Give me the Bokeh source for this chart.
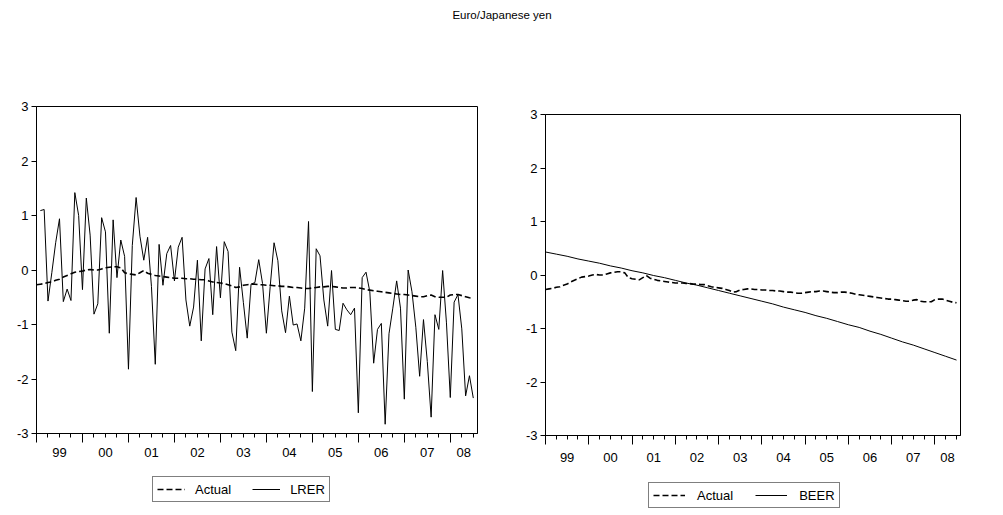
from bokeh.plotting import figure
from bokeh.models import Range1d, FixedTicker, LinearAxis, Legend, LegendItem, Label, Spacer
from bokeh.layouts import column, row
from bokeh.embed import file_html
from bokeh.resources import INLINE

FONT = "Liberation Sans"

# ---- data (month index 0 = 1999M01) ----
actual_months = list(range(115))
actual = [
    -0.27, -0.26, -0.25, -0.23, -0.22, -0.19, -0.17, -0.13, -0.10, -0.07,
    -0.04, -0.03, -0.02, 0.00, 0.01, 0.00, 0.00, 0.02, 0.04, 0.05,
    0.06, 0.06, 0.04, -0.05, -0.07, -0.08, -0.09, -0.05, -0.01, -0.06,
    -0.08, -0.10, -0.11, -0.12, -0.13, -0.14, -0.15, -0.15, -0.15, -0.16,
    -0.16, -0.17, -0.17, -0.18, -0.18, -0.20, -0.22, -0.23, -0.24, -0.25,
    -0.27, -0.29, -0.32, -0.31, -0.28, -0.27, -0.26, -0.26, -0.27, -0.27,
    -0.28, -0.28, -0.29, -0.29, -0.30, -0.30, -0.31, -0.32, -0.32, -0.33,
    -0.34, -0.34, -0.33, -0.32, -0.31, -0.31, -0.30, -0.30, -0.31, -0.32,
    -0.33, -0.33, -0.32, -0.32, -0.33, -0.34, -0.36, -0.37, -0.38, -0.39,
    -0.40, -0.41, -0.42, -0.43, -0.44, -0.45, -0.45, -0.46, -0.47, -0.48,
    -0.49, -0.49, -0.47, -0.46, -0.49, -0.50, -0.50, -0.50, -0.46, -0.45,
    -0.45, -0.47, -0.49, -0.51, -0.52,
]

lrer_months = list(range(1, 115))
lrer = [
    1.09, 1.11, -0.57, -0.05, 0.50, 0.94, -0.58, -0.35, -0.56, 1.42,
    1.00, -0.36, 1.32, 0.64, -0.81, -0.62, 0.96, 0.70, -1.16, 0.92,
    -0.14, 0.55, 0.25, -1.82, 0.45, 1.33, 0.62, 0.18, 0.60, -0.30,
    -1.73, 0.47, -0.28, 0.30, 0.45, -0.20, 0.42, 0.60, -0.55, -1.03,
    -0.68, 0.18, -1.30, 0.02, 0.21, -0.82, 0.43, -0.51, 0.52, 0.34,
    -1.14, -1.48, 0.05, -0.60, -1.25, -0.26, -0.23, 0.19, -0.25, -1.16,
    -0.30, 0.50, 0.17, -0.75, -1.15, -0.48, -1.01, -0.99, -1.30, -0.70,
    0.89, -2.23, 0.39, 0.26, -0.55, -1.03, -0.01, -1.09, -1.11, -0.61,
    -0.73, -0.82, -0.70, -2.62, -0.14, -0.04, -0.40, -1.71, -1.09, -0.98,
    -2.83, -1.17, -0.70, -0.20, -0.70, -2.37, 0.00, -0.40, -1.05, -1.95,
    -0.91, -1.68, -2.70, -0.82, -1.09, -0.01, -0.97, -2.34, -0.59, -0.45,
    -1.08, -2.31, -1.94, -2.35,
]

beer_months = list(range(0, 115, 3))
beer = [
    0.43, 0.39, 0.35, 0.30, 0.26, 0.22, 0.17, 0.13, 0.08, 0.04,
    -0.01, -0.05, -0.10, -0.15, -0.19, -0.24, -0.29, -0.34, -0.39, -0.44,
    -0.49, -0.54, -0.60, -0.65, -0.70, -0.76, -0.81, -0.87, -0.93, -0.98,
    -1.05, -1.11, -1.18, -1.25, -1.31, -1.38, -1.45, -1.52, -1.59,
]

year_labels = ["99", "00", "01", "02", "03", "04", "05", "06", "07", "08"]
year_label_pos = [6.0, 18.0, 30.0, 42.0, 54.0, 66.0, 78.0, 90.0, 102.0, 111.5]
year_bounds = [0, 12, 24, 36, 48, 60, 72, 84, 96, 108]
quarter_ticks = list(range(0, 115, 3))
y_ticks = [-3, -2, -1, 0, 1, 2, 3]
y_tick_labels = ["-3", "-2", "-1", "0", "1", "2", "3"]
title_text = "Euro/Japanese yen"

ACTUAL_STYLE = dict(line_color="black", line_width=1.6, line_dash="6 3")
SECOND_STYLE = dict(line_color="black", line_width=1)


def make_panel(width, height, left, right, top, bottom, second_x, second_y,
               label_standoff):
    p = figure(width=width, height=height, x_range=Range1d(0, 115.1),
               y_range=Range1d(-3, 3), toolbar_location=None,
               output_backend="svg", min_border_left=left,
               min_border_right=right, min_border_top=top,
               min_border_bottom=bottom)
    p.xgrid.visible = False
    p.ygrid.visible = False
    p.outline_line_color = "black"
    p.outline_line_width = 1
    p.background_fill_color = "white"
    p.border_fill_color = "white"

    ya = p.yaxis[0]
    ya.ticker = FixedTicker(ticks=y_ticks, minor_ticks=[])
    ya.major_label_overrides = {t: l for t, l in zip(y_ticks, y_tick_labels)}
    ya.major_tick_out = 5
    ya.major_tick_in = 0
    ya.minor_tick_line_color = None
    ya.major_label_standoff = 3
    ya.major_label_text_font = FONT
    ya.major_label_text_font_size = "13px"
    ya.major_label_text_color = "black"
    ya.axis_line_color = "black"
    ya.major_tick_line_color = "black"

    xa = p.xaxis[0]
    xa.ticker = FixedTicker(ticks=year_bounds, minor_ticks=quarter_ticks)
    xa.major_tick_out = 9
    xa.major_tick_in = 0
    xa.minor_tick_out = 4
    xa.minor_tick_in = 0
    xa.major_label_text_font_size = "0px"
    xa.major_label_text_color = None
    xa.major_label_standoff = 0
    xa.axis_line_color = "black"
    xa.major_tick_line_color = "black"
    xa.minor_tick_line_color = "black"

    la = LinearAxis(ticker=FixedTicker(ticks=year_label_pos, minor_ticks=[]))
    la.major_label_overrides = {t: l for t, l in zip(year_label_pos, year_labels)}
    la.axis_line_color = None
    la.major_tick_line_color = None
    la.minor_tick_line_color = None
    la.major_tick_out = 0
    la.major_tick_in = 0
    la.minor_tick_out = 0
    la.minor_tick_in = 0
    la.major_label_standoff = label_standoff
    la.major_label_text_font = FONT
    la.major_label_text_font_size = "13px"
    la.major_label_text_color = "black"
    p.add_layout(la, "below")

    p.line(second_x, second_y, **SECOND_STYLE)
    p.line(actual_months, actual, **ACTUAL_STYLE)
    return p


def make_legend_fig(width, height, second_x, second_y, second_name, lx, ly,
                    glyph_w, standoff, spacing):
    # the series are drawn outside this figure's visible range; only the
    # legend entries that refer to them are seen
    f = figure(width=width, height=height, x_axis_type=None, y_axis_type=None,
               toolbar_location=None, output_backend="svg", min_border=0,
               outline_line_color=None, x_range=Range1d(-20, -10),
               y_range=Range1d(0, 1))
    f.xgrid.visible = False
    f.ygrid.visible = False
    r1 = f.line(actual_months, actual, **ACTUAL_STYLE)
    r2 = f.line(second_x, second_y, **SECOND_STYLE)
    legend = Legend(items=[LegendItem(label="Actual", renderers=[r1]),
                           LegendItem(label=second_name, renderers=[r2])],
                    location=(lx, ly), orientation="horizontal",
                    border_line_color="black", border_line_width=1,
                    background_fill_color="white", background_fill_alpha=1,
                    label_text_font=FONT, label_text_font_size="13px",
                    label_text_color="black", glyph_width=glyph_w,
                    glyph_height=16, label_height=16, padding=4,
                    spacing=spacing, margin=0, label_standoff=standoff)
    f.add_layout(legend)
    return f


pt = figure(width=987, height=30, x_axis_type=None, y_axis_type=None,
            toolbar_location=None, output_backend="svg", min_border=0,
            outline_line_color=None, x_range=Range1d(0, 987),
            y_range=Range1d(0, 30))
pt.xgrid.visible = False
pt.ygrid.visible = False
pt.add_layout(Label(x=501.5, y=16, text=title_text, text_align="center",
                    text_baseline="middle", text_font=FONT,
                    text_font_size="11.5px", text_color="black"))

p1 = make_panel(492, 437, 36, 15, 76, 34, lrer_months, lrer, 5)
p2 = make_panel(495, 431, 53, 27, 76, 34, beer_months, beer, 8)

l1 = make_legend_fig(492, 46, lrer_months, lrer, "LRER", 152, 13, 28, 10, 21)
l2 = make_legend_fig(495, 46, beer_months, beer, "BEER", 156, 7, 32, 12, 22)

layout = column(pt,
                row(p1, column(Spacer(width=495, height=8), p2)),
                row(l1, l2))
open("out.html", "w").write(file_html(layout, INLINE))
